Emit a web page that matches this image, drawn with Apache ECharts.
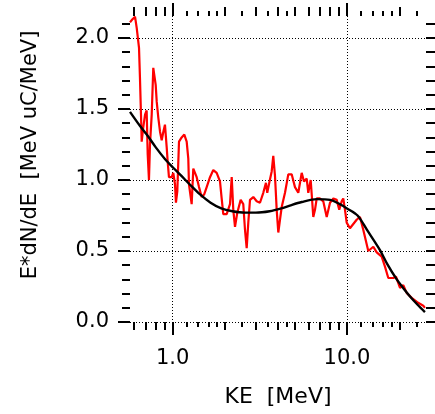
<!DOCTYPE html>
<html><head><meta charset="utf-8">
<script src="https://cdn.jsdelivr.net/npm/echarts@6/dist/echarts.min.js"></script>
<style>html,body{margin:0;padding:0;background:#fff}#c{width:435px;height:414px}</style>
</head><body><div id="c"></div>
<script>
// Measured spectrum (red)
const redE = [0.569,0.586,0.608,0.622,0.641,0.649,0.658,0.664,0.678,0.694,0.709,0.719,0.731,0.741,0.758,0.774,0.784,0.799,0.810,0.827,0.846,0.865,0.884,0.903,0.924,0.936,0.952,0.987,1.008,1.031,1.044,1.063,1.087,1.126,1.166,1.203,1.229,1.240,1.262,1.285,1.313,1.342,1.373,1.416,1.467,1.518,1.567,1.637,1.710,1.788,1.868,1.910,1.951,2.041,2.132,2.181,2.227,2.278,2.348,2.455,2.541,2.599,2.658,2.715,2.777,2.901,3.034,3.168,3.309,3.429,3.488,3.582,3.698,3.777,3.863,3.951,4.036,4.127,4.221,4.409,4.605,4.816,5.031,5.256,5.497,5.667,5.873,5.998,6.191,6.408,6.553,6.703,7.0,7.31,7.65,7.99,8.35,8.73,9.03,9.32,9.52,9.74,9.96,10.40,10.87,11.36,11.87,12.40,13.25,14.16,14.81,15.82,16.52,17.26,18.44,19.10,20.15,21.04,22.0,23.5,25.6,27.4,28.0];
const redV = [2.11,2.13,2.15,2.07,1.93,1.72,1.46,1.27,1.37,1.46,1.49,1.18,1.00,1.25,1.46,1.79,1.74,1.67,1.55,1.44,1.34,1.28,1.34,1.39,1.23,1.13,1.02,1.02,1.05,0.97,0.84,0.92,1.27,1.30,1.32,1.27,1.15,0.97,0.90,0.83,1.08,1.08,1.02,0.95,0.88,0.90,0.95,1.02,1.07,1.05,0.99,0.87,0.76,0.76,0.83,1.02,0.79,0.67,0.77,0.86,0.83,0.65,0.52,0.70,0.86,0.88,0.85,0.84,0.91,0.98,0.91,0.98,1.06,1.17,1.03,0.79,0.63,0.72,0.81,0.91,1.04,1.04,0.95,0.91,1.05,0.99,1.01,0.91,1.00,0.74,0.79,0.87,0.87,0.85,0.74,0.84,0.87,0.86,0.79,0.85,0.87,0.79,0.70,0.66,0.69,0.72,0.74,0.65,0.50,0.53,0.49,0.46,0.39,0.31,0.31,0.32,0.24,0.26,0.205,0.17,0.135,0.115,0.10];
// Fitted curve (black)
const fitE = [0.569,0.65,0.72,0.8,0.9,1.0,1.1,1.25,1.43,1.65,1.9,2.2,2.6,3.0,3.6,4.2,4.7,5.5,6.7,8.0,9.1,10.0,11.5,13.0,15.4,17.0,19.3,21.0,23.0,25.5,28.0];
const fitV = [1.48,1.38,1.31,1.23,1.15,1.09,1.04,0.97,0.90,0.84,0.80,0.78,0.77,0.77,0.78,0.80,0.82,0.845,0.865,0.86,0.83,0.80,0.75,0.65,0.51,0.41,0.30,0.24,0.18,0.12,0.07];
// Axis ticks
const xMajorTicks = [1, 10];
const xMidTicks = [0.6,0.7,0.8,0.9,2,3,4,5,6,7,8,9,20];
const xShortTicks = [1.2,1.4,1.6,1.8,2.5,3.5,4.5,12,14,16,18,25];
const yMajorTicks = [0,0.5,1.0,1.5,2.0];
const yMinorTicks = [0.1,0.2,0.3,0.4,0.6,0.7,0.8,0.9,1.1,1.2,1.3,1.4,1.6,1.7,1.8,1.9,2.1];
const xRange = [0.569, 28.4];
const yRange = [0, 2.155];
const xTitle = 'KE  [MeV]';
const yTitle = 'E*dN/dE  [MeV uC/MeV]';

const lg = Math.log10;
const FONT = 'DejaVu Sans';
const tickStyle = {color:'#000', width:2};
const dotted = {color:'#000', width:1, type:[1,2]};

function xAx(pos, ticks, len, extra) {
  return Object.assign({
    type:'value', position:pos, min:lg(xRange[0]), max:lg(xRange[1]),
    axisLine:{show:false, onZero:false},
    axisTick:{show:true, inside:false, length:len, customValues:ticks.map(lg), lineStyle:tickStyle},
    axisLabel:{show:false},
    splitLine:{show:false}
  }, extra || {});
}
function yAx(pos, ticks, len, extra) {
  return Object.assign({
    type:'value', position:pos, min:yRange[0], max:yRange[1],
    axisLine:{show:false, onZero:false},
    axisTick:{show:true, inside:false, length:len, customValues:ticks, lineStyle:tickStyle},
    axisLabel:{show:false},
    splitLine:{show:false}
  }, extra || {});
}

const xAxes = [
  xAx('bottom', xMajorTicks, 13, {
    axisLabel:{show:true, customValues:xMajorTicks.map(lg), margin:26, fontFamily:FONT, fontSize:21, color:'#000',
      formatter:v=>Math.pow(10,v).toFixed(1)},
    splitLine:{show:true, lineStyle:dotted},
    name:xTitle, nameLocation:'middle', nameGap:64,
    nameTextStyle:{fontFamily:FONT, fontSize:22, color:'#000'}
  }),
  xAx('bottom', xMidTicks, 8),
  xAx('bottom', xShortTicks, 5),
  xAx('top', xMajorTicks, 13),
  xAx('top', xMidTicks, 9),
  xAx('top', xShortTicks, 5)
];
const yAxes = [
  yAx('left', yMajorTicks, 12, {
    axisLabel:{show:true, customValues:yMajorTicks, margin:21, fontFamily:FONT, fontSize:21, color:'#000',
      formatter:v=>v.toFixed(1)},
    splitLine:{show:true, lineStyle:dotted},
    name:yTitle, nameLocation:'middle', nameGap:89, nameRotate:90,
    nameTextStyle:{fontFamily:FONT, fontSize:21, color:'#000', padding:[0,0,0,28]}
  }),
  yAx('left', yMinorTicks, 8),
  yAx('right', yMajorTicks, 12),
  yAx('right', yMinorTicks, 9)
];

const chart = echarts.init(document.getElementById('c'), null, {renderer:'canvas'});
chart.setOption({
  animation:false,
  backgroundColor:'#fff',
  grid:{left:130, right:9, top:16, bottom:92, containLabel:false, outerBoundsMode:'none'},
  xAxis:xAxes,
  yAxis:yAxes,
  series:[
    {type:'line', xAxisIndex:0, yAxisIndex:0, showSymbol:false, symbol:'none',
     data:redE.map((e,i)=>[lg(e), redV[i]]), lineStyle:{color:'#ff0000', width:2.2}, z:2},
    {type:'line', xAxisIndex:0, yAxisIndex:0, showSymbol:false, symbol:'none', smooth:0.3,
     data:fitE.map((e,i)=>[lg(e), fitV[i]]), lineStyle:{color:'#000', width:2.4}, z:3}
  ]
});
</script></body></html>
